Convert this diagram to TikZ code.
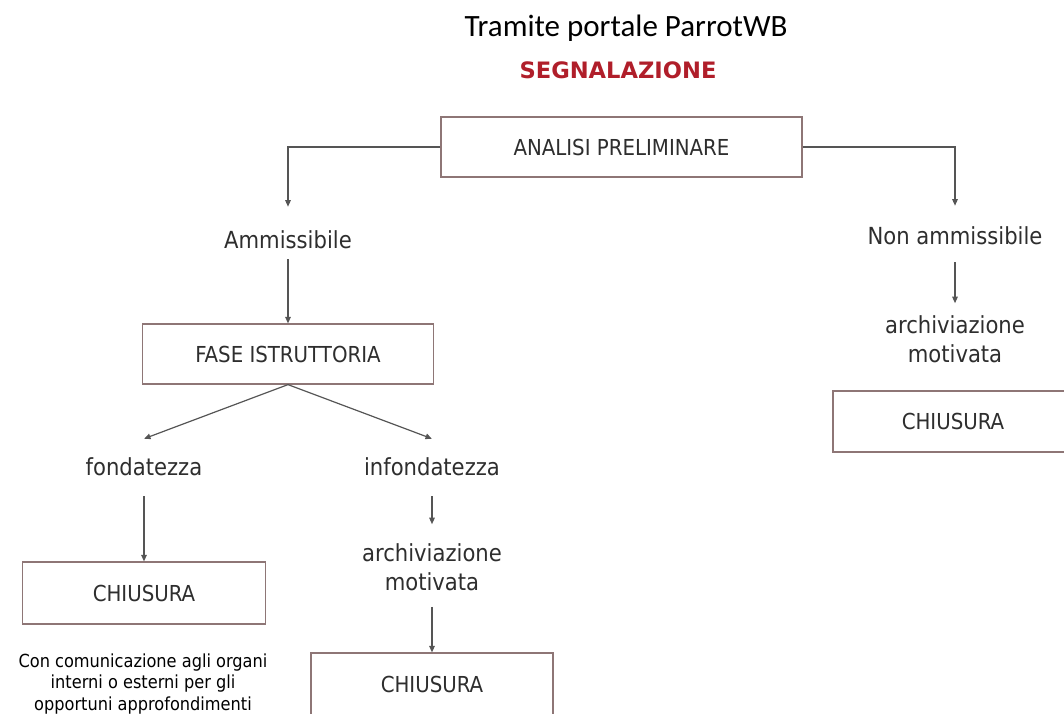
\documentclass[tikz,border=0pt]{standalone}
\usepackage{fontspec}
\setmainfont{DejaVu Sans Condensed}
\newfontfamily\titlefont{Carlito}
\newfontfamily\boldfont{DejaVu Sans}
\usetikzlibrary{arrows.meta}
\definecolor{linecol}{HTML}{555555}
\definecolor{boxcol}{HTML}{8E7676}
\definecolor{segred}{HTML}{B01E2A}
\definecolor{txt}{HTML}{2E2E2E}
\tikzset{
  box/.style={draw=boxcol, line width=1.2pt, fill=white, inner sep=0pt, text=txt,
    font=\fontsize{22}{26}\selectfont},
  flow/.style={inner sep=0pt, text=txt, align=center,
    font=\fontsize{23.5}{29}\selectfont},
  arr/.style={draw=linecol, line width=1.2pt, -{Triangle[length=6.5pt,width=5.5pt]}},
}
\begin{document}
\begin{tikzpicture}[x=1pt,y=-1pt]
\useasboundingbox (0,0) rectangle (1064,713);
\node[inner sep=0pt, font=\titlefont\fontsize{31}{36}\selectfont] (title) at (626,28) {Tramite portale ParrotWB};
\node[inner sep=0pt, text=segred, font=\boldfont\bfseries\fontsize{22.6}{26}\selectfont] (segn) at (618,70) {SEGNALAZIONE};

\node[box, minimum width=361pt, minimum height=60pt] (analisi) at (621.5,147) {ANALISI PRELIMINARE};
\node[flow] (amm) at (288,240) {Ammissibile};
\node[flow] (nonamm) at (955,236) {Non ammissibile};
\node[box, minimum width=291pt, minimum height=60pt] (fase) at (288,354) {FASE ISTRUTTORIA};
\node[flow] (fond) at (144,467) {fondatezza};
\node[flow] (infond) at (432,467) {infondatezza};
\node[box, minimum width=243pt, minimum height=62pt] (chius1) at (144,593) {CHIUSURA};
\node[inner sep=0pt, align=center, font=\fontsize{18}{21.5}\selectfont] (note) at (143,684) {Con comunicazione agli organi\\interni o esterni per gli\\opportuni approfondimenti};
\node[flow] (arch2) at (432,567) {archiviazione\\motivata};
\node[box, minimum width=242pt, minimum height=62pt] (chius2) at (432,684) {CHIUSURA};
\node[flow] (arch1) at (955,339) {archiviazione\\motivata};
\node[box, minimum width=240pt, minimum height=61pt] (chius3) at (953,421.5) {CHIUSURA};

\draw[arr, shorten >=24pt] (analisi.west) -| (amm.north);
\draw[arr, shorten >=21pt] (analisi.east) -| (nonamm.north);
\draw[arr, shorten <=10pt] (amm.south) -- (fase.north);
\draw[arr] (fase.south) -- ([yshift=19pt]fond.north);
\draw[arr] (fase.south) -- ([yshift=19pt]infond.north);
\draw[arr, shorten <=20pt] (fond.south) -- (chius1.north);
\draw[arr, shorten <=20pt, shorten >=19pt] (infond.south) -- (arch2.north);
\draw[arr, shorten <=16pt] (arch2.south) -- (chius2.north);
\draw[arr, shorten <=17pt, shorten >=12pt] (nonamm.south) -- (arch1.north);
\end{tikzpicture}
\end{document}
